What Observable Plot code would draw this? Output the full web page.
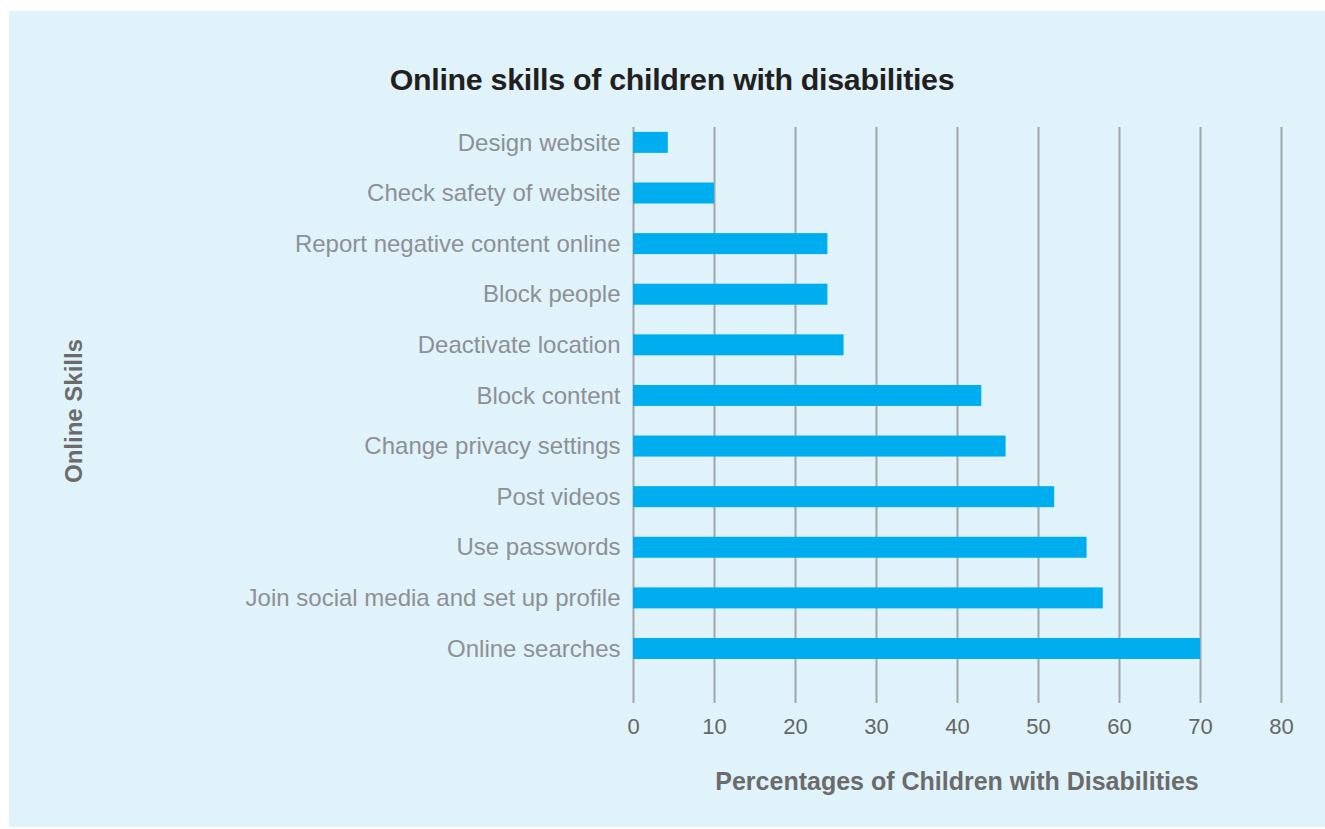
<!DOCTYPE html>
<html><head><meta charset="utf-8">
<script src="https://cdn.jsdelivr.net/npm/d3@7"></script>
<script src="https://cdn.jsdelivr.net/npm/@observablehq/plot@0.6"></script>
<style>
body{margin:0;background:#fff;font-family:"Liberation Sans",Arial,sans-serif;}
#panel{position:absolute;left:9px;top:11px;width:1316px;height:816px;background:#e0f3fa;overflow:hidden;}
#title{position:absolute;left:0;width:1326px;top:53px;text-align:center;font-weight:bold;font-size:30.4px;line-height:1;color:#231f20;letter-spacing:-0.3px;}
#xlabel{position:absolute;left:0;width:1896px;top:758px;text-align:center;font-family:"Liberation Sans Narrow","Liberation Sans",Arial,sans-serif;font-weight:bold;font-size:25px;line-height:1;color:#6b6b6b;}
#ylabel{position:absolute;left:65px;top:400px;transform:translate(-50%,-50%) rotate(-90deg);white-space:nowrap;font-weight:bold;font-size:24px;line-height:1;color:#6b6b6b;}
#chart{position:absolute;left:0;top:0;}
</style>
</head><body>
<div id="panel">
  <div id="chart"></div>
  <div id="title">Online skills of children with disabilities</div>
  <div id="xlabel">Percentages of Children with Disabilities</div>
  <div id="ylabel">Online Skills</div>
</div>
<script>
const skills = [
  "Design website",
  "Check safety of website",
  "Report negative content online",
  "Block people",
  "Deactivate location",
  "Block content",
  "Change privacy settings",
  "Post videos",
  "Use passwords",
  "Join social media and set up profile",
  "Online searches"
];
const values = [4.3, 10, 24, 24, 26, 43, 46, 52, 56, 58, 70];
const xTicks = [0, 10, 20, 30, 40, 50, 60, 70, 80];

const data = skills.map((s, i) => ({skill: s, value: values[i]}));

const chart = Plot.plot({
  width: 1316,
  height: 816,
  marginLeft: 624,
  marginRight: 44,
  marginTop: 116,
  marginBottom: 124,
  style: {background: "transparent", fontFamily: "'Liberation Sans', Arial, sans-serif"},
  x: {domain: [0, 80], ticks: xTicks},
  y: {domain: skills, paddingInner: 0.585, paddingOuter: 0.483, align: 0.1, round: false},
  marks: [
    Plot.gridX(xTicks, {stroke: "#a2a5a9", strokeOpacity: 1, strokeWidth: 2}),
    Plot.barX(data, {x: "value", y: "skill", fill: "#00aeef"}),
    Plot.axisX(xTicks, {tickSize: 0, tickPadding: 15, fontSize: 22, fill: "#666666", label: null}),
    Plot.axisY({tickSize: 0, tickPadding: 13, fontSize: 24, fill: "#8d9094", label: null})
  ]
});
document.getElementById("chart").appendChild(chart);
</script>
</body></html>
